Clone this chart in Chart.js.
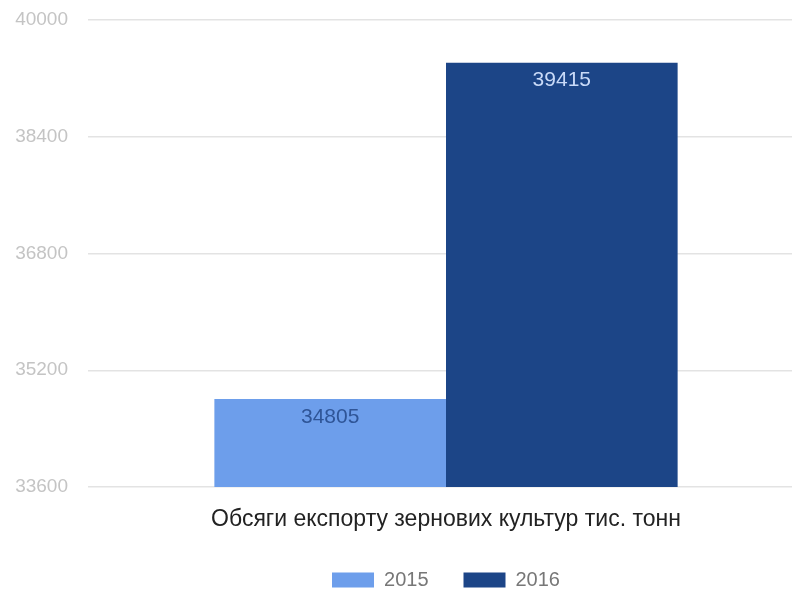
<!DOCTYPE html>
<html>
<head>
<meta charset="utf-8">
<script src="https://cdn.jsdelivr.net/npm/chart.js@4"></script>
<style>
  html, body { margin: 0; padding: 0; background: #fff; overflow: hidden; }
  #wrap { width: 792px; height: 594px; overflow: hidden; }
</style>
</head>
<body>
<div id="wrap"><canvas id="myChart" width="804" height="594"></canvas></div>
<script>
// Chart data
const categories = ['Обсяги експорту зернових культур тис. тонн'];
const years = ['2015', '2016'];
const values2015 = [34805];
const values2016 = [39415];
const yTicks = [33600, 35200, 36800, 38400, 40000];

const barColors = ['#6d9eeb', '#1c4587'];
const labelColors = ['#2f5597', '#c9daf8'];
const fontFamily = '"Liberation Sans", Arial, sans-serif';

// Draw the value inside the top of each bar
const valueLabels = {
    id: 'valueLabels',
    afterDatasetsDraw(chart) {
        const ctx = chart.ctx;
        ctx.save();
        ctx.font = '21px ' + fontFamily;
        ctx.textAlign = 'center';
        ctx.textBaseline = 'middle';
        chart.data.datasets.forEach((ds, i) => {
            chart.getDatasetMeta(i).data.forEach((bar, j) => {
                ctx.fillStyle = labelColors[i];
                ctx.fillText(String(ds.data[j]), bar.x, bar.y + 18);
            });
        });
        ctx.restore();
    }
};

// Fix the legend height so it sits near the bottom edge
const legendHeight = {
    id: 'legendHeight',
    beforeInit(chart) {
        const fit = chart.legend.fit;
        chart.legend.fit = function () {
            fit.call(this);
            this.height = 59;
        };
    }
};

new Chart(document.getElementById('myChart').getContext('2d'), {
    type: 'bar',
    data: {
        labels: categories,
        datasets: [
            { label: years[0], data: values2015, backgroundColor: barColors[0] },
            { label: years[1], data: values2016, backgroundColor: barColors[1] }
        ]
    },
    options: {
        responsive: false,
        animation: false,
        layout: { padding: { top: 20, right: 0, left: 0, bottom: 0 } },
        datasets: {
            bar: { barPercentage: 1.0, categoryPercentage: 0.647 }
        },
        scales: {
            x: {
                grid: { display: false },
                border: { display: false },
                ticks: {
                    color: '#222',
                    font: { family: fontFamily, size: 23, lineHeight: 1.1 },
                    padding: 12
                },
                afterFit(scale) { scale.height = 48; }
            },
            y: {
                min: yTicks[0],
                max: yTicks[yTicks.length - 1],
                afterBuildTicks(scale) { scale.ticks = yTicks.map(v => ({ value: v })); },
                grid: { color: '#e3e3e3', lineWidth: 1.5, drawTicks: false },
                border: { display: false },
                ticks: {
                    color: '#c4c4c4',
                    font: { family: fontFamily, size: 19 },
                    padding: 20,
                    callback: v => String(v)
                },
                afterFit(scale) {
                    scale.width = 88;
                    scale.paddingTop = 0;
                    scale.paddingBottom = 0;
                }
            }
        },
        plugins: {
            legend: {
                position: 'bottom',
                fullSize: false,
                labels: {
                    boxWidth: 42,
                    boxHeight: 15,
                    padding: 35,
                    color: '#777',
                    font: { family: fontFamily, size: 20 }
                }
            },
            tooltip: { enabled: false }
        }
    },
    plugins: [valueLabels, legendHeight]
});
</script>
</body>
</html>
